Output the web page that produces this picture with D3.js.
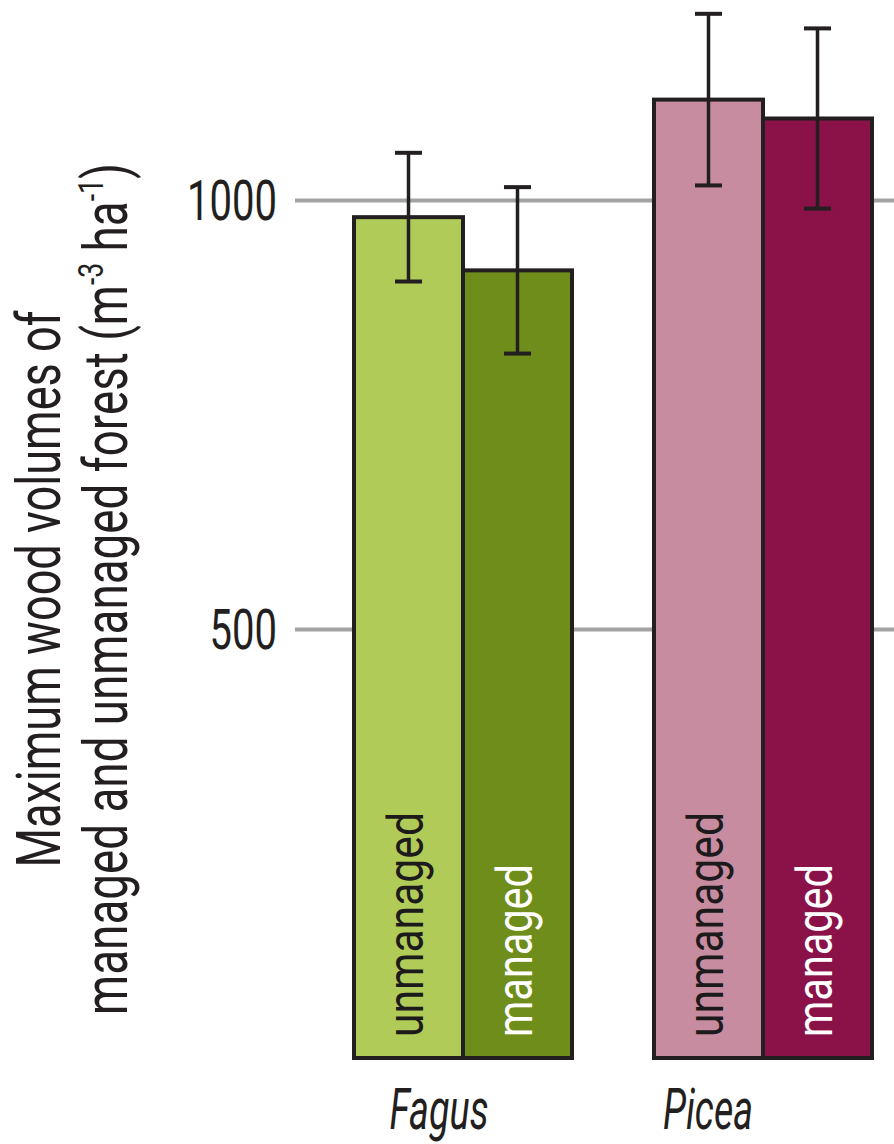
<!DOCTYPE html>
<html>
<head>
<meta charset="utf-8">
<script src="https://cdn.jsdelivr.net/npm/d3@7"></script>
<style>
  html, body { margin: 0; padding: 0; background: #fff; }
  svg { display: block; }
  text { font-family: Roboto, "Open Sans", sans-serif; }
</style>
</head>
<body>
<svg id="chart" width="894" height="1144"></svg>
<script>
// Maximum wood volume (m3/ha) per genus, with error-bar half-widths
const species = ["Fagus", "Picea"];
const treatments = ["unmanaged", "managed"];
const unmanagedVolume = [980, 1117];
const unmanagedError = [75, 100];
const managedVolume = [918, 1095];
const managedError = [97, 105];
const yTicks = [500, 1000];

const fills = {
  Fagus: { unmanaged: "#b0cb58", managed: "#6f8d1b" },
  Picea: { unmanaged: "#c88ca1", managed: "#8a1249" }
};
const labelInk = { unmanaged: "#1c1a1b", managed: "#ffffff" };
const ink = "#231f20";

const rows = species.flatMap((s, i) => [
  { species: s, treatment: "unmanaged", value: unmanagedVolume[i], err: unmanagedError[i] },
  { species: s, treatment: "managed", value: managedVolume[i], err: managedError[i] }
]);

const svg = d3.select("#chart");

const y = d3.scaleLinear().domain([0, 1000]).range([1058, 200]);
const x0 = d3.scaleBand().domain(species).range([313, 913]);
const barW = 109;
const x1 = d3.scaleBand().domain(treatments).range([0, barW * 2]);
const barX = d => x0(d.species) + (x0.bandwidth() - barW * 2) / 2 + x1(d.treatment);
const barC = d => barX(d) + barW / 2;

// horizontally condense a text node to a target advance width
function condense(sel, target) {
  const len = sel.node().getComputedTextLength();
  const t = sel.attr("transform") || "";
  sel.attr("transform", t + ` scale(${target / len},1)`);
  return target / len;
}

// gridlines + tick labels
const axisX = 295;
const axis = svg.append("g")
  .attr("transform", `translate(${axisX},0)`)
  .call(d3.axisLeft(y).tickValues(yTicks).tickSize(-(894 - axisX)).tickFormat(d3.format("d")));
axis.select(".domain").remove();
axis.selectAll(".tick line").attr("stroke", "#a3a3a3").attr("stroke-width", 4);
const tickTexts = axis.selectAll(".tick text")
  .attr("x", 0).attr("dy", null).attr("y", 19)
  .attr("font-size", 56).attr("fill", ink)
  .attr("text-anchor", "end")
  .attr("transform", "translate(-18,0)");
let maxLen = 0;
tickTexts.each(function () { maxLen = Math.max(maxLen, this.getComputedTextLength()); });
tickTexts.attr("transform", `translate(-18,0) scale(${90 / maxLen},1)`);

// bars
svg.append("g").selectAll("rect").data(rows).join("rect")
  .attr("x", barX)
  .attr("y", d => y(d.value))
  .attr("width", barW)
  .attr("height", d => y(0) - y(d.value))
  .attr("fill", d => fills[d.species][d.treatment])
  .attr("stroke", ink)
  .attr("stroke-width", 4);

// error bars
const eb = svg.append("g").attr("stroke", ink).attr("stroke-width", 3.5);
eb.selectAll("line.v").data(rows).join("line").attr("class", "v")
  .attr("x1", barC).attr("x2", barC)
  .attr("y1", d => y(d.value - d.err)).attr("y2", d => y(d.value + d.err));
const capW = 27;
["lo", "hi"].forEach(k => {
  eb.selectAll("line." + k).data(rows).join("line").attr("class", k)
    .attr("x1", d => barC(d) - capW / 2).attr("x2", d => barC(d) + capW / 2)
    .attr("y1", d => y(k === "lo" ? d.value - d.err : d.value + d.err))
    .attr("y2", d => y(k === "lo" ? d.value - d.err : d.value + d.err))
    .attr("stroke-width", 4);
});

// rotated treatment labels inside the bars
const labelLen = { unmanaged: 225, managed: 173 };
svg.append("g").selectAll("text").data(rows).join("text")
  .attr("transform", d => `translate(${barC(d) + 14},1037) rotate(-90)`)
  .attr("font-size", 50)
  .attr("fill", d => labelInk[d.treatment])
  .attr("text-anchor", "start")
  .text(d => d.treatment)
  .each(function (d) { condense(d3.select(this), labelLen[d.treatment]); });

// genus names under each group
const nameNudge = { Fagus: -24, Picea: -55 };
const nameLen = { Fagus: 99, Picea: 90 };
svg.append("g").selectAll("text").data(species).join("text")
  .attr("transform", s => `translate(${x0(s) + x0.bandwidth() / 2 + nameNudge[s]},1129)`)
  .attr("font-size", 57)
  .attr("font-style", "italic")
  .attr("fill", ink)
  .attr("text-anchor", "middle")
  .text(s => s)
  .each(function (s) { condense(d3.select(this), nameLen[s]); });

// y-axis title, two rotated lines
const t1 = svg.append("text")
  .attr("transform", "translate(60,589) rotate(-90)")
  .attr("font-size", 62).attr("fill", ink).attr("text-anchor", "middle")
  .text("Maximum wood volumes of");
condense(t1, 557);

const t2 = svg.append("text")
  .attr("transform", "translate(127,589) rotate(-90)")
  .attr("font-size", 62).attr("fill", ink).attr("text-anchor", "middle");
t2.append("tspan").text("managed and unmanaged forest (m");
t2.append("tspan").attr("font-size", 36).attr("dy", -24).text("-3");
t2.append("tspan").attr("dy", 24).text(" ha");
t2.append("tspan").attr("font-size", 36).attr("dy", -24).text("-1");
t2.append("tspan").attr("dy", 24).text(")");
condense(t2, 852);
</script>
</body>
</html>
